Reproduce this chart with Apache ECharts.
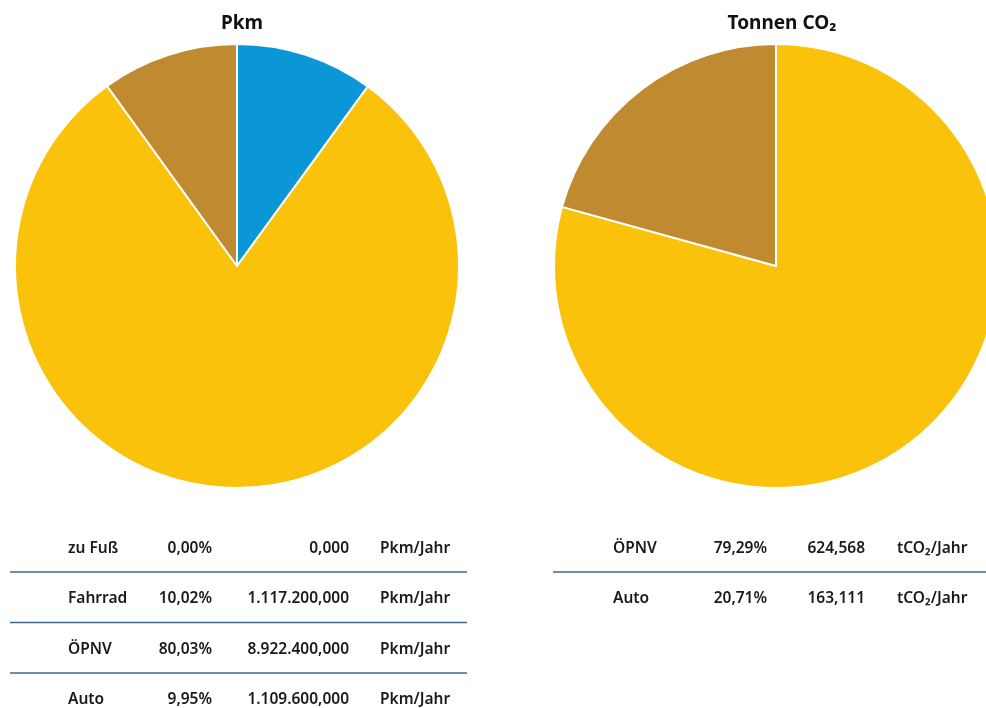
<!DOCTYPE html>
<html><head><meta charset="utf-8">
<script src="https://cdn.jsdelivr.net/npm/echarts@6/dist/echarts.min.js"></script>
<style>html,body{margin:0;padding:0;background:#fff}#c{width:986px;height:708px}</style>
</head><body><div id="c"></div>
<script>
// Pkm data
const pkmCategories = ['zu Fuß', 'Fahrrad', 'ÖPNV', 'Auto'];
const pkmValues = [0, 1117200, 8922400, 1109600];
const pkmPercents = [0.00, 10.02, 80.03, 9.95];
const pkmUnit = 'Pkm/Jahr';
// CO2 data
const co2Categories = ['ÖPNV', 'Auto'];
const co2Values = [624.568, 163.111];
const co2Percents = [79.29, 20.71];
const co2Unit = 'tCO₂/Jahr';
const titles = ['Pkm', 'Tonnen CO₂'];

const colorMap = {'zu Fuß':'#7fb24a','Fahrrad':'#0b96d8','ÖPNV':'#fac20b','Auto':'#c08a30'};
const FONT = '"Noto Sans", sans-serif';

function fmtDE(v, dec){
  const s = v.toFixed(dec);
  let [i, d] = s.split('.');
  i = i.replace(/\B(?=(\d{3})+(?!\d))/g, '.');
  return d ? i + ',' + d : i;
}

const chart = echarts.init(document.getElementById('c'));
const graphics = [];
function addTable(cats, vals, pcts, unit, cols, y0, dy, lineX0, lineX1){
  cats.forEach((c, k) => {
    const y = y0 + k*dy;
    const st = {fontFamily: FONT, fontSize: 15.5, fontWeight: 600, fill: '#1a1a1a', textVerticalAlign: 'middle'};
    graphics.push({type:'text', x: cols[0], y, style: Object.assign({text:c, textAlign:'left'}, st)});
    graphics.push({type:'text', x: cols[1], y, style: Object.assign({text:fmtDE(pcts[k],2)+'%', textAlign:'right'}, st)});
    graphics.push({type:'text', x: cols[2], y, style: Object.assign({text:fmtDE(vals[k],3), textAlign:'right'}, st)});
    graphics.push({type:'text', x: cols[3], y, style: Object.assign({text:unit, textAlign:'left'}, st)});
    if (k < cats.length - 1) {
      const ly = y + 23.5;
      graphics.push({type:'line', shape:{x1:lineX0, y1:ly, x2:lineX1, y2:ly}, style:{stroke:'#3e6a90', lineWidth:1.5}});
    }
  });
}
addTable(pkmCategories, pkmValues, pkmPercents, pkmUnit, [68, 212, 349, 380], 548.5, 50.5, 10, 467);
addTable(co2Categories, co2Values, co2Percents, co2Unit, [613, 767, 865, 897], 548.5, 50.5, 553, 990);

chart.setOption({
  animation: false,
  title: [
    {text: titles[0], left: 237, top: 9, textAlign: 'center', textStyle:{fontFamily:FONT, fontSize:19, fontWeight:'bold', color:'#111'}},
    {text: titles[1], left: 777, top: 9, textAlign: 'center', textStyle:{fontFamily:FONT, fontSize:19, fontWeight:'bold', color:'#111'}}
  ],
  series: [
    {type:'pie', center:[237,266], radius:[0,222], startAngle:90, clockwise:true, label:{show:false}, labelLine:{show:false},
     itemStyle:{borderColor:'#fff', borderWidth:2}, emphasis:{disabled:true},
     data: pkmCategories.map((c,i)=>({name:c, value:pkmValues[i], itemStyle:{color:colorMap[c]}}))},
    {type:'pie', center:[776,266], radius:[0,222], startAngle:90, clockwise:true, label:{show:false}, labelLine:{show:false},
     itemStyle:{borderColor:'#fff', borderWidth:2}, emphasis:{disabled:true},
     data: co2Categories.map((c,i)=>({name:c, value:co2Values[i], itemStyle:{color:colorMap[c]}}))}
  ],
  graphic: graphics
});
</script></body></html>
